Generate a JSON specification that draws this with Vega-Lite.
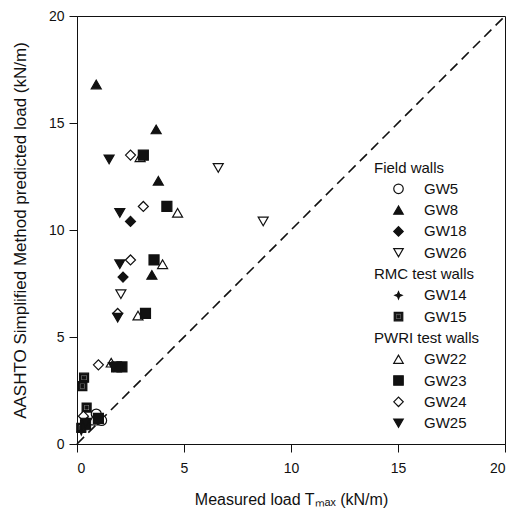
{
  "$schema": "https://vega.github.io/schema/vega-lite/v6.json",
  "width": 428,
  "height": 428,
  "autosize": "none",
  "padding": {"left": 77, "top": 16, "right": 11, "bottom": 72},
  "background": "white",
  "config": {
    "font": "Liberation Sans",
    "view": {"stroke": "#111", "strokeWidth": 1},
    "axis": {
      "grid": false,
      "domainColor": "#111",
      "tickColor": "#111",
      "tickSize": 8,
      "labelFontSize": 14,
      "labelColor": "#111",
      "titleFontSize": 16,
      "titleFontWeight": "normal",
      "titleColor": "#111"
    }
  },
  "datasets": {
    "diag": [{"x": 0, "y": 0}, {"x": 20, "y": 20}],
    "pts": [
      {"series": "GW5", "x": 0.9, "y": 1.4},
      {"series": "GW5", "x": 1.15, "y": 1.1},
      {"series": "GW8", "x": 0.9, "y": 16.8},
      {"series": "GW8", "x": 3.7, "y": 14.7},
      {"series": "GW8", "x": 3.8, "y": 12.3},
      {"series": "GW8", "x": 3.5, "y": 7.9},
      {"series": "GW18", "x": 2.5, "y": 10.4},
      {"series": "GW18", "x": 2.15, "y": 7.8},
      {"series": "GW18", "x": 0.5, "y": 1.0},
      {"series": "GW26", "x": 6.6, "y": 12.9},
      {"series": "GW26", "x": 8.7, "y": 10.4},
      {"series": "GW26", "x": 2.05, "y": 7.0},
      {"series": "GW14", "x": 0.2, "y": 0.6},
      {"series": "GW15", "x": 0.33, "y": 3.1},
      {"series": "GW15", "x": 0.25, "y": 2.7},
      {"series": "GW15", "x": 0.45, "y": 1.7},
      {"series": "GW15", "x": 0.2, "y": 0.75},
      {"series": "GW22", "x": 2.95, "y": 13.4},
      {"series": "GW22", "x": 4.7, "y": 10.8},
      {"series": "GW22", "x": 4.0, "y": 8.4},
      {"series": "GW22", "x": 2.85, "y": 6.0},
      {"series": "GW22", "x": 1.6, "y": 3.8},
      {"series": "GW22", "x": 0.75, "y": 1.1},
      {"series": "GW23", "x": 3.1, "y": 13.5},
      {"series": "GW23", "x": 4.2, "y": 11.1},
      {"series": "GW23", "x": 3.6, "y": 8.6},
      {"series": "GW23", "x": 3.2, "y": 6.1},
      {"series": "GW23", "x": 2.1, "y": 3.6},
      {"series": "GW23", "x": 1.85, "y": 3.6},
      {"series": "GW23", "x": 1.0, "y": 1.2},
      {"series": "GW23", "x": 0.4, "y": 0.9},
      {"series": "GW24", "x": 2.5, "y": 13.5},
      {"series": "GW24", "x": 3.1, "y": 11.1},
      {"series": "GW24", "x": 2.5, "y": 8.6},
      {"series": "GW24", "x": 1.9, "y": 6.1},
      {"series": "GW24", "x": 1.0, "y": 3.7},
      {"series": "GW24", "x": 0.3, "y": 1.3},
      {"series": "GW25", "x": 1.5, "y": 13.3},
      {"series": "GW25", "x": 2.0, "y": 10.8},
      {"series": "GW25", "x": 2.0, "y": 8.4},
      {"series": "GW25", "x": 1.9, "y": 5.9},
      {"series": "GW25", "x": 1.7, "y": 3.6},
      {"series": "GW25", "x": 0.4, "y": 1.0}
    ]
  },
  "layer": [
    {
      "data": {"name": "diag"},
      "mark": {"type": "line", "color": "#111", "strokeWidth": 1.6, "strokeDash": [10, 6]},
      "encoding": {
        "x": {"field": "x", "type": "quantitative"},
        "y": {"field": "y", "type": "quantitative"}
      }
    },
    {
      "data": {"name": "pts"},
      "mark": {"type": "point", "stroke": "#111", "strokeWidth": 1.2, "opacity": 1, "size": 100},
      "encoding": {
        "x": {
          "field": "x", "type": "quantitative",
          "scale": {"domain": [0, 20], "nice": false, "zero": false},
          "axis": {"values": [0, 5, 10, 15, 20], "labelPadding": 9, "title": "Measured load Tₘₐₓ (kN/m)", "titlePadding": 16}
        },
        "y": {
          "field": "y", "type": "quantitative",
          "scale": {"domain": [0, 20], "nice": false, "zero": false},
          "axis": {"values": [0, 5, 10, 15, 20], "labelPadding": 5, "title": "AASHTO Simplified Method predicted load (kN/m)", "titlePadding": 19, "titleFontSize": 17}
        },
        "shape": {
          "field": "series", "type": "nominal",
          "scale": {
            "domain": ["Field walls", "GW5", "GW8", "GW18", "GW26", "RMC test walls", "GW14", "GW15", "PWRI test walls", "GW22", "GW23", "GW24", "GW25"],
            "range": ["M0,0", "circle", "triangle-up", "diamond", "triangle-down", "M0,0", "M0,-0.75L0.22,-0.22L0.75,0L0.22,0.22L0,0.75L-0.22,0.22L-0.75,0L-0.22,-0.22Z", "M-0.9,-0.9H0.9V0.9H-0.9Z M-0.6,-0.6V0.6H0.6V-0.6Z M-0.3,-0.3H0.3V0.3H-0.3Z", "M0,0", "triangle-up", "square", "diamond", "triangle-down"]
          },
          "legend": {
            "title": null,
            "orient": "none",
            "legendX": 314,
            "legendY": 144,
            "padding": 0,
            "symbolSize": 90,
            "symbolStrokeColor": "#111",
            "symbolStrokeWidth": 1.2,
            "symbolOpacity": 1,
            "labelFontSize": 15,
            "labelColor": "#111",
            "labelOffset": 18,
            "rowPadding": 5.3,
            "labelLimit": 200,
            "encode": {
              "labels": {
                "update": {
                  "dx": {"signal": "indexof(['Field walls','RMC test walls','PWRI test walls'], datum.value) >= 0 ? -50 : 0"}
                }
              }
            }
          }
        },
        "fill": {
          "field": "series", "type": "nominal",
          "scale": {
            "domain": ["Field walls", "GW5", "GW8", "GW18", "GW26", "RMC test walls", "GW14", "GW15", "PWRI test walls", "GW22", "GW23", "GW24", "GW25"],
            "range": ["white", "white", "#111", "#111", "white", "white", "#111", "#111", "white", "white", "#111", "white", "#111"]
          },
          "legend": {
            "title": null,
            "orient": "none",
            "legendX": 314,
            "legendY": 144,
            "padding": 0,
            "symbolSize": 90,
            "symbolStrokeColor": "#111",
            "symbolStrokeWidth": 1.2,
            "symbolOpacity": 1,
            "labelFontSize": 15,
            "labelColor": "#111",
            "labelOffset": 18,
            "rowPadding": 5.3,
            "labelLimit": 200,
            "encode": {
              "labels": {
                "update": {
                  "dx": {"signal": "indexof(['Field walls','RMC test walls','PWRI test walls'], datum.value) >= 0 ? -50 : 0"}
                }
              }
            }
          }
        }
      }
    }
  ]
}
